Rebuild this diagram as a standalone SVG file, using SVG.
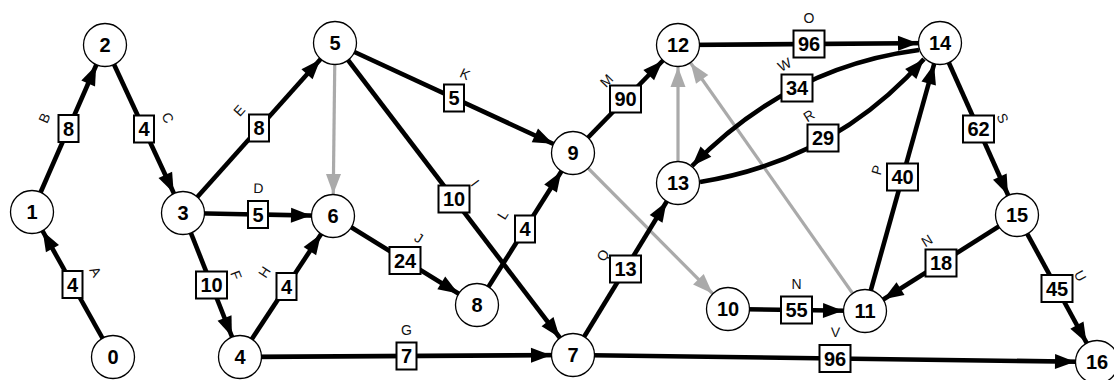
<svg xmlns="http://www.w3.org/2000/svg" width="1114" height="380" viewBox="0 0 1114 380">
<style>
.e{stroke:#000;stroke-width:4.6;fill:none;marker-end:url(#ab)}
.g{stroke:#aaa;stroke-width:3.2;fill:none;marker-end:url(#ag)}
.c{stroke:#000;stroke-width:4.6;fill:none;marker-end:url(#ac)}
.b{fill:#fff;stroke:#000;stroke-width:2}
.w{font-family:"Liberation Sans",Arial,sans-serif;font-size:20px;font-weight:bold;text-anchor:middle;fill:#000}
.l{font-family:"Liberation Sans",Arial,sans-serif;font-size:14px;text-anchor:middle;fill:#111}
.nd circle{fill:#fff;stroke:#000;stroke-width:1.3}
.nd text{font-family:"Liberation Sans",Arial,sans-serif;font-size:20px;font-weight:bold;text-anchor:middle;fill:#000}
</style>
<defs>
<marker id="ab" markerUnits="userSpaceOnUse" markerWidth="20" markerHeight="15" refX="42" refY="7.5" orient="auto" overflow="visible"><path d="M0,0 L20,7.5 L0,15 z" fill="#000"/></marker>
<marker id="ag" markerUnits="userSpaceOnUse" markerWidth="20" markerHeight="15" refX="42" refY="7.5" orient="auto" overflow="visible"><path d="M0,0 L20,7.5 L0,15 z" fill="#aaa"/></marker>
<marker id="ac" markerUnits="userSpaceOnUse" markerWidth="20" markerHeight="15" refX="20" refY="7.5" orient="auto" overflow="visible"><path d="M0,0 L20,7.5 L0,15 z" fill="#000"/></marker>
</defs>
<rect width="1114" height="380" fill="#fff"/>
<g id="connectors">
<g id="e-5-6"><line class="g" x1="335" y1="43" x2="333" y2="216"/></g>
<g id="e-9-10"><line class="g" x1="573" y1="153" x2="728" y2="309"/></g>
<g id="e-13-12"><line class="g" x1="678" y1="183" x2="678" y2="45"/></g>
<g id="e-11-12"><line class="g" x1="865" y1="311" x2="678" y2="45"/></g>
<g id="e-A"><line class="e" x1="113" y1="357" x2="32" y2="212"/><g transform="translate(72.5,284.5)"><rect class="b" x="-10" y="-13.5" width="20" height="27"/><text class="w" y="7">4</text><text class="l" y="-21.5" transform="rotate(60.8)">A</text></g></g>
<g id="e-B"><line class="e" x1="32" y1="212" x2="105" y2="45"/><g transform="translate(68.5,128.5)"><rect class="b" x="-10" y="-13.5" width="20" height="27"/><text class="w" y="7">8</text><text class="l" y="-21.5" transform="rotate(-66.4)">B</text></g></g>
<g id="e-C"><line class="e" x1="105" y1="45" x2="183" y2="213"/><g transform="translate(144,129)"><rect class="b" x="-10" y="-13.5" width="20" height="27"/><text class="w" y="7">4</text><text class="l" y="-21.5" transform="rotate(65.1)">C</text></g></g>
<g id="e-D"><line class="e" x1="183" y1="213" x2="333" y2="216"/><g transform="translate(258,214.5)"><rect class="b" x="-10" y="-13.5" width="20" height="27"/><text class="w" y="7">5</text><text class="l" y="-21.5" transform="rotate(1.1)">D</text></g></g>
<g id="e-E"><line class="e" x1="183" y1="213" x2="335" y2="43"/><g transform="translate(259,128)"><rect class="b" x="-10" y="-13.5" width="20" height="27"/><text class="w" y="7">8</text><text class="l" y="-21.5" transform="rotate(-48.2)">E</text></g></g>
<g id="e-F"><line class="e" x1="183" y1="213" x2="240" y2="357"/><g transform="translate(211.5,285)"><rect class="b" x="-15.5" y="-13.5" width="31" height="27"/><text class="w" y="7">10</text><text class="l" y="-21.5" transform="rotate(68.4)">F</text></g></g>
<g id="e-H"><line class="e" x1="240" y1="357" x2="333" y2="216"/><g transform="translate(286.5,286.5)"><rect class="b" x="-10" y="-13.5" width="20" height="27"/><text class="w" y="7">4</text><text class="l" y="-21.5" transform="rotate(-56.6)">H</text></g></g>
<g id="e-G"><line class="e" x1="240" y1="357" x2="573" y2="355"/><g transform="translate(406.5,356)"><rect class="b" x="-10" y="-13.5" width="20" height="27"/><text class="w" y="7">7</text><text class="l" y="-21.5">G</text></g></g>
<g id="e-K"><line class="e" x1="335" y1="43" x2="573" y2="153"/><g transform="translate(454,98)"><rect class="b" x="-10" y="-13.5" width="20" height="27"/><text class="w" y="7">5</text><text class="l" y="-21.5" transform="rotate(24.8)">K</text></g></g>
<g id="e-I"><line class="e" x1="335" y1="43" x2="573" y2="355"/><g transform="translate(454,199)"><rect class="b" x="-15.5" y="-13.5" width="31" height="27"/><text class="w" y="7">10</text><text class="l" y="-21.5" transform="rotate(52.7)">I</text></g></g>
<g id="e-J"><line class="e" x1="333" y1="216" x2="477" y2="305"/><g transform="translate(405,260.5)"><rect class="b" x="-15.5" y="-13.5" width="31" height="27"/><text class="w" y="7">24</text><text class="l" y="-21.5" transform="rotate(31.7)">J</text></g></g>
<g id="e-L"><line class="e" x1="477" y1="305" x2="573" y2="153"/><g transform="translate(525,229)"><rect class="b" x="-10" y="-13.5" width="20" height="27"/><text class="w" y="7">4</text><text class="l" y="-21.5" transform="rotate(-57.7)">L</text></g></g>
<g id="e-M"><line class="e" x1="573" y1="153" x2="678" y2="45"/><g transform="translate(625.5,99)"><rect class="b" x="-15.5" y="-13.5" width="31" height="27"/><text class="w" y="7">90</text><text class="l" y="-21.5" transform="rotate(-45.8)">M</text></g></g>
<g id="e-O"><line class="e" x1="678" y1="45" x2="940" y2="43"/><g transform="translate(809,44)"><rect class="b" x="-15.5" y="-13.5" width="31" height="27"/><text class="w" y="7">96</text><text class="l" y="-21.5">O</text></g></g>
<g id="e-W"><path class="c" d="M919,50 Q788,67 692,166"/><g transform="translate(797,88)"><rect class="b" x="-15.5" y="-13.5" width="31" height="27"/><text class="w" y="7">34</text><text class="l" y="-21.5" transform="rotate(-28)">W</text></g></g>
<g id="e-R"><path class="c" d="M700,182 Q835,160 924,59"/><g transform="translate(823,138)"><rect class="b" x="-15.5" y="-13.5" width="31" height="27"/><text class="w" y="7">29</text><text class="l" y="-21.5" transform="rotate(-32)">R</text></g></g>
<g id="e-Q"><line class="e" x1="573" y1="355" x2="678" y2="183"/><g transform="translate(625.5,269)"><rect class="b" x="-15.5" y="-13.5" width="31" height="27"/><text class="w" y="7">13</text><text class="l" y="-21.5" transform="rotate(-58.6)">Q</text></g></g>
<g id="e-N1"><line class="e" x1="728" y1="309" x2="865" y2="311"/><g transform="translate(796.5,310)"><rect class="b" x="-15.5" y="-13.5" width="31" height="27"/><text class="w" y="7">55</text><text class="l" y="-21.5">N</text></g></g>
<g id="e-V"><line class="e" x1="573" y1="355" x2="1097" y2="362"/><g transform="translate(835,358.5)"><rect class="b" x="-15.5" y="-13.5" width="31" height="27"/><text class="w" y="7">96</text><text class="l" y="-21.5" transform="rotate(0.8)">V</text></g></g>
<g id="e-P"><line class="e" x1="865" y1="311" x2="940" y2="43"/><g transform="translate(902.5,177)"><rect class="b" x="-15.5" y="-13.5" width="31" height="27"/><text class="w" y="7">40</text><text class="l" y="-21.5" transform="rotate(-74.4)">P</text></g></g>
<g id="e-S"><line class="e" x1="940" y1="43" x2="1017" y2="215"/><g transform="translate(978.5,129)"><rect class="b" x="-15.5" y="-13.5" width="31" height="27"/><text class="w" y="7">62</text><text class="l" y="-21.5" transform="rotate(65.9)">S</text></g></g>
<g id="e-N2"><line class="e" x1="1017" y1="215" x2="865" y2="311"/><g transform="translate(941,263)"><rect class="b" x="-15.5" y="-13.5" width="31" height="27"/><text class="w" y="7">18</text><text class="l" y="-21.5" transform="rotate(-32.3)">N</text></g></g>
<g id="e-U"><line class="e" x1="1017" y1="215" x2="1097" y2="362"/><g transform="translate(1057,288.5)"><rect class="b" x="-15.5" y="-13.5" width="31" height="27"/><text class="w" y="7">45</text><text class="l" y="-21.5" transform="rotate(61.4)">U</text></g></g>
</g>
<g id="nodes">
<g id="n0" class="nd"><circle cx="113" cy="357" r="21.5"/><text x="113" y="364">0</text></g>
<g id="n1" class="nd"><circle cx="32" cy="212" r="21.5"/><text x="32" y="219">1</text></g>
<g id="n2" class="nd"><circle cx="105" cy="45" r="21.5"/><text x="105" y="52">2</text></g>
<g id="n3" class="nd"><circle cx="183" cy="213" r="21.5"/><text x="183" y="220">3</text></g>
<g id="n4" class="nd"><circle cx="240" cy="357" r="21.5"/><text x="240" y="364">4</text></g>
<g id="n5" class="nd"><circle cx="335" cy="43" r="21.5"/><text x="335" y="50">5</text></g>
<g id="n6" class="nd"><circle cx="333" cy="216" r="21.5"/><text x="333" y="223">6</text></g>
<g id="n7" class="nd"><circle cx="573" cy="355" r="21.5"/><text x="573" y="362">7</text></g>
<g id="n8" class="nd"><circle cx="477" cy="305" r="21.5"/><text x="477" y="312">8</text></g>
<g id="n9" class="nd"><circle cx="573" cy="153" r="21.5"/><text x="573" y="160">9</text></g>
<g id="n10" class="nd"><circle cx="728" cy="309" r="21.5"/><text x="728" y="316">10</text></g>
<g id="n11" class="nd"><circle cx="865" cy="311" r="21.5"/><text x="865" y="318">11</text></g>
<g id="n12" class="nd"><circle cx="678" cy="45" r="21.5"/><text x="678" y="52">12</text></g>
<g id="n13" class="nd"><circle cx="678" cy="183" r="21.5"/><text x="678" y="190">13</text></g>
<g id="n14" class="nd"><circle cx="940" cy="43" r="21.5"/><text x="940" y="50">14</text></g>
<g id="n15" class="nd"><circle cx="1017" cy="215" r="21.5"/><text x="1017" y="222">15</text></g>
<g id="n16" class="nd"><circle cx="1097" cy="362" r="21.5"/><text x="1097" y="369">16</text></g>
</g>
</svg>
